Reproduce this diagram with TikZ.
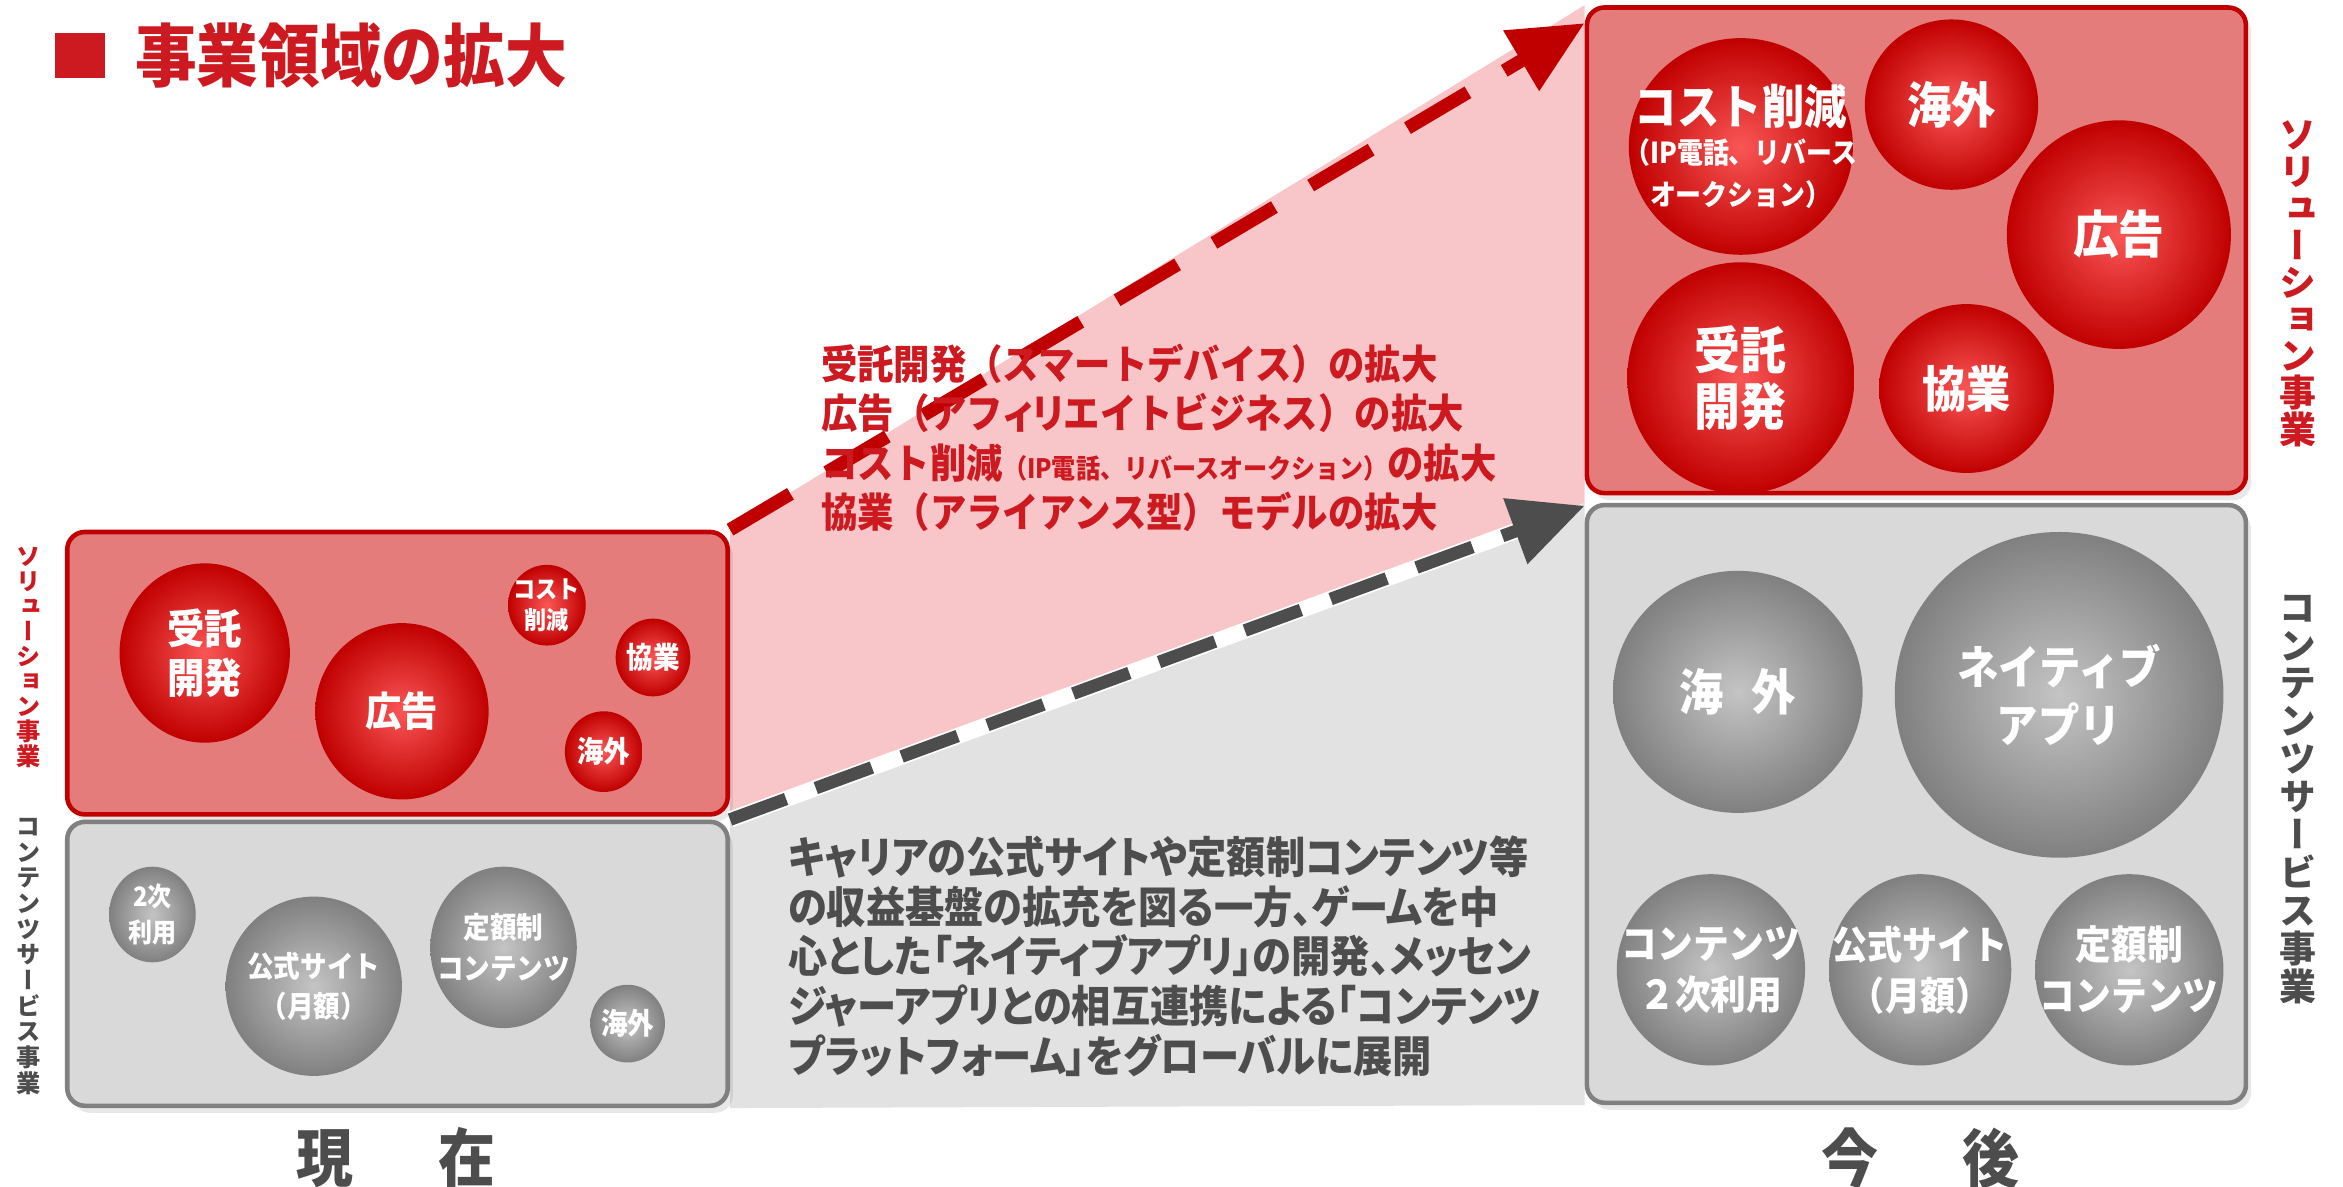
\documentclass[tikz,border=0pt]{standalone}
\usepackage{fontspec}
\setmainfont{Noto Sans CJK JP}[FakeStretch=0.9]
\newfontfamily\propfont{Noto Sans CJK JP}[RawFeature=+palt,FakeStretch=0.9]
\newfontfamily\tatefont{Noto Sans CJK JP}[RawFeature=+vert]
\usetikzlibrary{calc}
\usetikzlibrary{backgrounds}
\usetikzlibrary{arrows.meta}
\usetikzlibrary{shapes.geometric}
\usetikzlibrary{shadows}
\usetikzlibrary{positioning}

\definecolor{darkred}{RGB}{192,0,0}
\definecolor{txtred}{RGB}{204,26,32}
\definecolor{boxred}{RGB}{228,124,124}
\definecolor{ballred}{RGB}{250,86,86}
\definecolor{lpink}{RGB}{248,198,200}
\definecolor{boxgray}{RGB}{217,217,217}
\definecolor{linegray}{RGB}{128,128,128}
\definecolor{areagray}{RGB}{226,226,226}
\definecolor{ballgray}{RGB}{196,196,196}
\definecolor{dgray}{RGB}{77,77,77}

\tikzset{redbox/.style={draw=darkred,line width=1.3pt,fill=boxred,rounded corners=5pt,drop shadow={opacity=0.18,shadow xshift=1.5pt,shadow yshift=-2pt}}}
\tikzset{graybox/.style={draw=linegray,line width=1.3pt,fill=boxgray,rounded corners=5pt,drop shadow={opacity=0.18,shadow xshift=1.5pt,shadow yshift=-2pt}}}
\tikzset{redball/.style={ellipse,inner sep=0pt,inner color=ballred,outer color=darkred}}
\tikzset{grayball/.style={ellipse,inner sep=0pt,inner color=ballgray,outer color=linegray}}
\tikzset{balltext/.style={text=white,align=center,inner sep=0pt}}
\tikzset{dia/.style 2 args={minimum width=#1*0.01494cm,minimum height=#2*0.01494cm}}
\tikzset{tate/.style={align=center,inner sep=0pt}}

\begin{document}
\begin{tikzpicture}[x=0.01494cm,y=-0.01494cm]
\useasboundingbox (0,0) rectangle (1568,794);

% title
\node[fill=txtred,dia={33}{30},inner sep=0pt] (sq) at (53.5,37) {};
\node[anchor=west,text=txtred,font=\bfseries\fontsize{19.5}{22}\selectfont,inner sep=0pt] (title) at (90,37) {事業領域の拡大};

% boxes
\node[redbox,dia={442}{189}] (lrbox) at (266,450.5) {};
\node[graybox,dia={442}{190}] (lgbox) at (266,645) {};
\node[redbox,dia={441}{325}] (rrbox) at (1282.5,167.5) {};
\node[graybox,dia={441}{400}] (rgbox) at (1282.5,538) {};

\begin{scope}[on background layer]
\fill[lpink] (lrbox.north east) -- (rrbox.north west) -- (rgbox.north west) -- (lgbox.north east) -- cycle;
\fill[areagray] (lgbox.north east) -- (rgbox.north west) -- (rgbox.south west) -- (lgbox.south east) -- cycle;
\end{scope}

% arrows
\draw[darkred,line width=3.8pt,dash pattern=on 20pt off 12pt,-{Triangle[length=21pt,width=19pt]}] (lrbox.north east) -- ($(rrbox.north west)+(0,12)$);
\draw[white,line width=4.6pt,shorten >=18pt] (lgbox.north east) -- ($(rgbox.north west)+(0,2)$);
\draw[dgray,line width=3.6pt,dash pattern=on 17pt off 9pt,-{Triangle[length=21pt,width=19pt]}] (lgbox.north east) -- ($(rgbox.north west)+(0,2)$);

% current: solution
\node[redball,dia={114}{120}] (lr1) at (137,437) {};
\node[balltext,font=\bfseries\fontsize{11.8}{14}\selectfont] (lr1t) at (lr1) {受託\\開発};
\node[redball,dia={116}{118}] (lr2) at (269,476) {};
\node[balltext,font=\bfseries\fontsize{11.5}{14}\selectfont] (lr2t) at (lr2) {広告};
\node[redball,dia={52}{54}] (lr3) at (366,405) {};
\node[balltext,font=\bfseries\fontsize{7}{8.6}\selectfont] (lr3t) at (lr3) {コスト\\削減};
\node[redball,dia={50}{52}] (lr4) at (437,440) {};
\node[balltext,font=\bfseries\fontsize{8.4}{10}\selectfont] (lr4t) at (lr4) {協業};
\node[redball,dia={52}{54}] (lr5) at (404,503) {};
\node[balltext,font=\bfseries\fontsize{8.4}{10}\selectfont] (lr5t) at (lr5) {海外};

% current: contents
\node[grayball,dia={58}{64}] (lg1) at (102,612) {};
\node[balltext,font=\bfseries\fontsize{7.6}{10}\selectfont] (lg1t) at (lg1) {2次\\利用};
\node[grayball,dia={118}{120}] (lg2) at (210,660) {};
\node[balltext,font=\bfseries\fontsize{8.4}{11.5}\selectfont] (lg2t) at (lg2) {公式サイト\\（月額）};
\node[grayball,dia={98}{108}] (lg3) at (337,634) {};
\node[balltext,font=\bfseries\fontsize{8.4}{11.5}\selectfont] (lg3t) at (lg3) {定額制\\コンテンツ};
\node[grayball,dia={50}{52}] (lg4) at (420,685) {};
\node[balltext,font=\bfseries\fontsize{8.4}{10}\selectfont] (lg4t) at (lg4) {海外};

% future: solution
\node[redball,dia={150}{145}] (rr1) at (1165,98) {};
\node[balltext] (rr1t) at (rr1) {{\bfseries\fontsize{13.4}{15}\selectfont コスト削減}\\[-1pt]{\bfseries\fontsize{8.2}{11}\selectfont （IP電話、リバース}\\{\bfseries\fontsize{8.2}{11}\selectfont オークション）}};
\node[redball,dia={116}{114}] (rr2) at (1306,70) {};
\node[balltext,font=\bfseries\fontsize{14}{16}\selectfont] (rr2t) at (rr2) {海外};
\node[redball,dia={150}{153}] (rr3) at (1418,157) {};
\node[balltext,font=\bfseries\fontsize{14.5}{16}\selectfont] (rr3t) at (rr3) {広告};
\node[redball,dia={152}{155}] (rr4) at (1165,253) {};
\node[balltext,font=\bfseries\fontsize{14.5}{16}\selectfont] (rr4t) at (rr4) {受託\\開発};
\node[redball,dia={117}{113}] (rr5) at (1316,260) {};
\node[balltext,font=\bfseries\fontsize{14}{16}\selectfont] (rr5t) at (rr5) {協業};

% future: contents
\node[grayball,dia={167}{162}] (rg1) at (1163,463) {};
\node[balltext,font=\bfseries\fontsize{14}{16}\selectfont] (rg1t) at (rg1) {海\hspace{8pt}外};
\node[grayball,dia={220}{218}] (rg2) at (1378,465) {};
\node[balltext,font=\bfseries\fontsize{13.1}{16.5}\selectfont] (rg2t) at (rg2) {ネイティブ\\アプリ};
\node[grayball,dia={126}{128}] (rg3) at (1145,649) {};
\node[balltext,font=\bfseries\fontsize{11.3}{14.5}\selectfont] (rg3t) at (rg3) {コンテンツ\\２次利用};
\node[grayball,dia={122}{128}] (rg4) at (1285,649) {};
\node[balltext,font=\bfseries\fontsize{11.1}{14.5}\selectfont] (rg4t) at (rg4) {公式サイト\\（月額）};
\node[grayball,dia={126}{128}] (rg5) at (1425,649) {};
\node[balltext,font=\bfseries\fontsize{11.3}{14.5}\selectfont] (rg5t) at (rg5) {定額制\\コンテンツ};

% middle texts
\node[anchor=west,align=left,text=txtred,inner sep=0pt,font=\bfseries\fontsize{11.5}{14.1}\selectfont] (grow) at (549,293) {受託開発（スマートデバイス）の拡大\\広告（アフ{\propfont ィリ}エイトビジネス）の拡大\\コスト削減{\fontsize{7.6}{14.1}\selectfont （IP電話、リバースオークション）}の拡大\\協業（アライアンス型）モデルの拡大};
\node[anchor=west,align=left,text=dgray,inner sep=0pt,font=\propfont\bfseries\fontsize{12.4}{14.2}\selectfont] (plan) at (527,640) {キャリアの公式サイトや定額制コンテンツ等\\の収益基盤の拡充を図る一方、ゲームを中\\心とした「ネイティブアプリ」の開発、メッセン\\ジャーアプリとの相互連携による「コンテンツ\\プラットフォーム」をグローバルに展開};

% side labels
\node[tate,text=txtred,font=\tatefont\bfseries\fontsize{6.9}{7.1}\selectfont] (lsol) at (19,440) {ソ\\リ\\ュ\\ー\\シ\\ョ\\ン\\事\\業};
\node[tate,text=dgray,font=\tatefont\bfseries\fontsize{6.9}{7.3}\selectfont] (lcon) at (19,640) {コ\\ン\\テ\\ン\\ツ\\サ\\ー\\ビ\\ス\\事\\業};
\node[tate,text=txtred,font=\tatefont\bfseries\fontsize{10.5}{10.5}\selectfont] (rsol) at (1538,190) {ソ\\リ\\ュ\\ー\\シ\\ョ\\ン\\事\\業};
\node[tate,text=dgray,font=\tatefont\bfseries\fontsize{10.5}{10.8}\selectfont] (rcon) at (1538,535) {コ\\ン\\テ\\ン\\ツ\\サ\\ー\\ビ\\ス\\事\\業};

% bottom labels
\node[text=dgray,font=\bfseries\fontsize{18}{20}\selectfont] (now) at (265,775) {現\hspace{24pt}在};
\node[text=dgray,font=\bfseries\fontsize{18}{20}\selectfont] (later) at (1285,775) {今\hspace{24pt}後};
\end{tikzpicture}
\end{document}
